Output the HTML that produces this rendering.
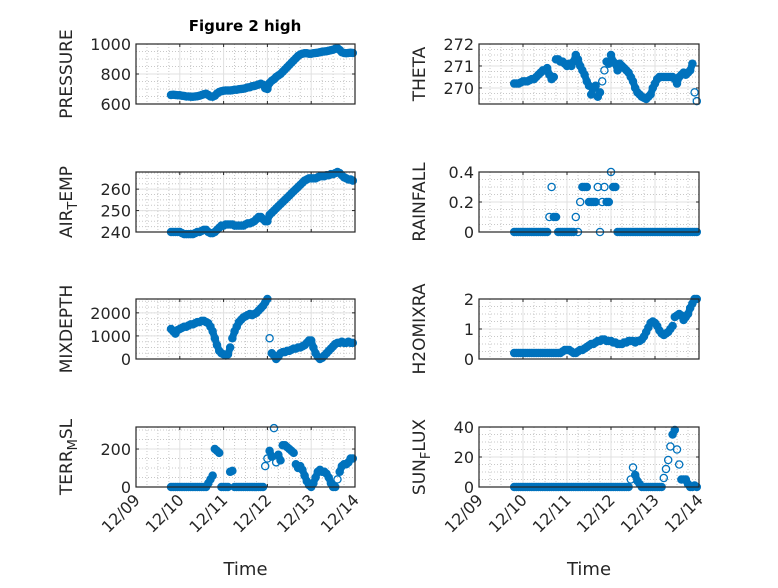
<!DOCTYPE html>
<html><head><meta charset="utf-8"><style>
body{margin:0;background:#fff;}
svg text{font-family:"DejaVu Sans","Liberation Sans",sans-serif;fill:#262626;}
</style></head><body>
<svg id="fig" width="778" height="583" xmlns="http://www.w3.org/2000/svg">
<rect width="778" height="583" fill="#fff"/>
<text x="245" y="31" text-anchor="middle" font-size="15" font-weight="bold" style="fill:#000">Figure 2 high</text>
</svg>
<script>
// time in days since 12/09
const timeStart = 0.8, timeStep = 0.05;
const xTickLabels = ["12/09","12/10","12/11","12/12","12/13","12/14"];
const pressure = [660,662,660,658,658,655,653,650,650,648,648,650,652,655,660,665,668,660,650,648,655,670,680,685,688,690,690,690,692,695,695,698,700,702,705,710,712,718,720,725,730,735,728,705,700,740,755,765,780,790,800,815,830,845,860,875,890,905,920,930,935,938,938,935,935,938,940,942,945,948,950,952,955,958,962,968,972,960,945,940,938,940,942,940];
const theta = [270.2,270.2,270.2,270.25,270.3,270.3,270.3,270.35,270.4,270.4,270.5,270.6,270.7,270.8,270.8,270.9,270.6,270.4,270.5,271.3,271.3,271.2,271.2,271.1,271.0,271.1,271.0,271.2,271.5,271.3,271.0,270.8,270.6,270.3,270.1,269.7,270.0,270.1,269.6,269.8,270.3,270.8,271.2,271.1,271.5,271.2,271.1,270.8,271.1,271.0,270.9,270.8,270.7,270.5,270.3,270.0,269.8,269.7,269.6,269.55,269.5,269.6,269.7,270.0,270.2,270.4,270.5,270.5,270.5,270.5,270.5,270.5,270.5,270.4,270.2,270.5,270.6,270.7,270.6,270.7,270.8,271.1,269.8,269.4];
const airTemp = [240,240,240,240,240,239.5,239,239,239,239,239,239.5,240,240,240.5,241,241,240,239.5,239.5,240,241,242,243,243,243.5,243.5,243.5,243.5,243,243,243,243,243,243.5,244,244,244.5,245,246,247,247,246,245,245,248,249,250,251,252,253,254,255,256,257,258,259,260,261,262,263,264,264.5,265,265,265,265,265.5,266,266,266,266.5,266.5,267,267,267.5,268,267.5,266.5,265.5,265,264.5,264.5,264];
const rainfall = [0,0,0,0,0,0,0,0,0,0,0,0,0,0,0,0,0.1,0.3,0.1,0.1,0,0,0,0,0,0,0,0,0.1,0,0.2,0.3,0.3,0.3,0.2,0.2,0.2,0.2,0.3,0,0.2,0.3,0.2,0.2,0.4,0.3,0.3,0,0,0,0,0,0,0,0,0,0,0,0,0,0,0,0,0,0,0,0,0,0,0,0,0,0,0,0,0,0,0,0,0,0,0,0,0];
const mixDepth = [1300,1200,1100,1250,1300,1350,1400,1400,1450,1500,1500,1550,1600,1600,1650,1650,1600,1550,1400,1200,900,600,350,250,200,150,200,500,900,1200,1400,1600,1700,1800,1850,1900,1950,1900,1950,2000,2100,2200,2300,2450,2600,900,250,150,0,100,250,300,300,350,350,400,450,450,500,500,550,600,700,800,800,500,250,100,0,50,150,250,350,450,550,650,700,700,750,700,700,750,700,700];
const h2oMix = [0.2,0.2,0.2,0.2,0.2,0.2,0.2,0.2,0.2,0.2,0.2,0.2,0.2,0.2,0.2,0.2,0.2,0.2,0.2,0.2,0.2,0.2,0.25,0.3,0.3,0.3,0.25,0.2,0.2,0.25,0.3,0.3,0.35,0.4,0.45,0.5,0.5,0.55,0.6,0.6,0.65,0.65,0.6,0.6,0.6,0.55,0.55,0.5,0.5,0.5,0.55,0.55,0.6,0.6,0.6,0.55,0.6,0.6,0.65,0.75,0.9,1.05,1.2,1.25,1.2,1.1,0.95,0.85,0.8,0.85,0.9,1.0,1.1,1.4,1.45,1.5,1.45,1.3,1.4,1.5,1.7,1.85,2.0,2.0];
const terrMsl = [0,0,0,0,0,0,0,0,0,0,0,0,0,0,0,0,0,20,40,60,200,190,180,0,0,0,0,80,85,0,0,0,0,0,0,0,0,0,0,0,0,0,0,110,150,190,160,310,130,170,140,220,220,210,200,190,180,120,100,110,90,60,30,10,0,20,50,80,90,80,80,70,50,20,0,0,40,80,110,120,120,130,150,150];
const sunFlux = [0,0,0,0,0,0,0,0,0,0,0,0,0,0,0,0,0,0,0,0,0,0,0,0,0,0,0,0,0,0,0,0,0,0,0,0,0,0,0,0,0,0,0,0,0,0,0,0,0,0,0,0,0,5,13,8,4,2,0,0,0,0,0,0,0,0,0,0,6,12,18,27,35,38,25,15,5,5,5,2,0,0,1,0];
const pressureTicks = [600,800,1000], thetaTicks=[270,271,272], airTicks=[240,250,260], rainTicks=[0,0.2,0.4], mixTicks=[0,1000,2000], h2oTicks=[0,1,2], terrTicks=[0,200], sunTicks=[0,20,40];

const NS="http://www.w3.org/2000/svg";
const svg=document.getElementById('fig');
function mk(tag,attrs,parent){const e=document.createElementNS(NS,tag);for(const k in attrs)e.setAttribute(k,attrs[k]);(parent||svg).appendChild(e);return e;}

const panels=[
 {name:'pressure',data:pressure,ticks:pressureTicks,ymin:600,ymax:1000,col:0,row:0,label:['PRESSURE']},
 {name:'theta',data:theta,ticks:thetaTicks,ymin:269.27,ymax:272,col:1,row:0,label:['THETA']},
 {name:'air-temp',data:airTemp,ticks:airTicks,ymin:240,ymax:268,col:0,row:1,label:['AIR','T','EMP']},
 {name:'rainfall',data:rainfall,ticks:rainTicks,ymin:0,ymax:0.4,col:1,row:1,label:['RAINFALL']},
 {name:'mixdepth',data:mixDepth,ticks:mixTicks,ymin:0,ymax:2600,col:0,row:2,label:['MIXDEPTH']},
 {name:'h2omixra',data:h2oMix,ticks:h2oTicks,ymin:0,ymax:2,col:1,row:2,label:['H2OMIXRA']},
 {name:'terr-msl',data:terrMsl,ticks:terrTicks,ymin:0,ymax:316,col:0,row:3,label:['TERR','M','SL']},
 {name:'sun-flux',data:sunFlux,ticks:sunTicks,ymin:0,ymax:40,col:1,row:3,label:['SUN','F','LUX']},
];
const colX=[[136,355],[479,699]];
const rowY=[44,172,299,427], H=60;

panels.forEach(p=>{
 const [x0,x1]=colX[p.col]; const y0=rowY[p.row], y1=y0+H;
 const xs=t=>x0+(t/5)*(x1-x0);
 const ys=v=>y1-(v-p.ymin)/(p.ymax-p.ymin)*H;
 const g=mk('g',{});
 
 
 for(let d=0;d<5;d++)for(let q=1;q<4;q++){const x=xs(d+q/4);mk('line',{x1:x,x2:x,y1:y0,y2:y1,stroke:'#c8c8c8','stroke-width':1,'stroke-dasharray':'1,2'},g);}
 const step=p.ticks[1]-p.ticks[0], mstep=step/4;
 for(let v=p.ticks[0]-step;v<=p.ymax+1e-9;v+=mstep){if(v<p.ymin-1e-9)continue;const y=ys(v);mk('line',{x1:x0,x2:x1,y1:y,y2:y,stroke:'#c8c8c8','stroke-width':1,'stroke-dasharray':'1,2'},g);}
 for(let d=1;d<5;d++){const x=xs(d);mk('line',{x1:x,x2:x,y1:y0,y2:y1,stroke:'#e0e0e0','stroke-width':1},g);}
 p.ticks.forEach(v=>{const y=ys(v);mk('line',{x1:x0,x2:x1,y1:y,y2:y,stroke:'#e0e0e0','stroke-width':1},g);
   const t=mk('text',{x:x0-5,y:y+6,'text-anchor':'end','font-size':16},g);t.textContent=String(v);
   
   
   mk('line',{x1:x0,x2:x0+3,y1:y,y2:y,stroke:'#262626'},g);mk('line',{x1:x1,x2:x1-3,y1:y,y2:y,stroke:'#262626'},g);});
 for(let d=0;d<=5;d++){const x=xs(d);mk('line',{x1:x,x2:x,y1:y1,y2:y1-3,stroke:'#262626'},g);mk('line',{x1:x,x2:x,y1:y0,y2:y0+3,stroke:'#262626'},g);}
 // dense band linking adjacent close samples (markers are densely packed in source)
 for(let i=1;i<p.data.length;i++){
   const xa=xs(timeStart+(i-1)*timeStep), xb=xs(timeStart+i*timeStep);
   const ya=ys(p.data[i-1]), yb=ys(p.data[i]);
   if(Math.abs(ya-yb)<7){mk('line',{x1:xa,y1:ya,x2:xb,y2:yb,stroke:'#0072BD','stroke-width':7,'stroke-linecap':'round'},g);}
 }
 p.data.forEach((v,i)=>{const t=timeStart+i*timeStep;
   const c=mk('circle',{cx:xs(t),cy:ys(v),r:3.6,fill:'none',stroke:'#0072BD','stroke-width':1.3},g);
   
   });
 mk('rect',{x:x0,y:y0,width:x1-x0,height:H,fill:'none',stroke:'#262626','stroke-width':1.2},g);
 const lx=p.col===0?72:425, ly=y0+H/2;
 const lab=mk('text',{transform:`translate(${lx},${ly}) rotate(-90)`,'text-anchor':'middle','font-size':17},g);
 
 
 p.label.forEach((s,k)=>{const ts=mk('tspan',{},lab);ts.textContent=s;
   if(k===1){ts.setAttribute('font-size','13');ts.setAttribute('dy','5');}
   if(k===2){ts.setAttribute('dy','-5');}});
 if(p.row===3){
   xTickLabels.forEach((s,d)=>{const x=xs(d);
     const t=mk('text',{transform:`translate(${x+5},${y1+14}) rotate(-45)`,'text-anchor':'end','font-size':16},g);
     t.textContent=s;
     
     });
   const xt=mk('text',{x:(x0+x1)/2,y:575,'text-anchor':'middle','font-size':18},g);xt.textContent='Time';
   
   
 }
});
</script>
</body></html>
